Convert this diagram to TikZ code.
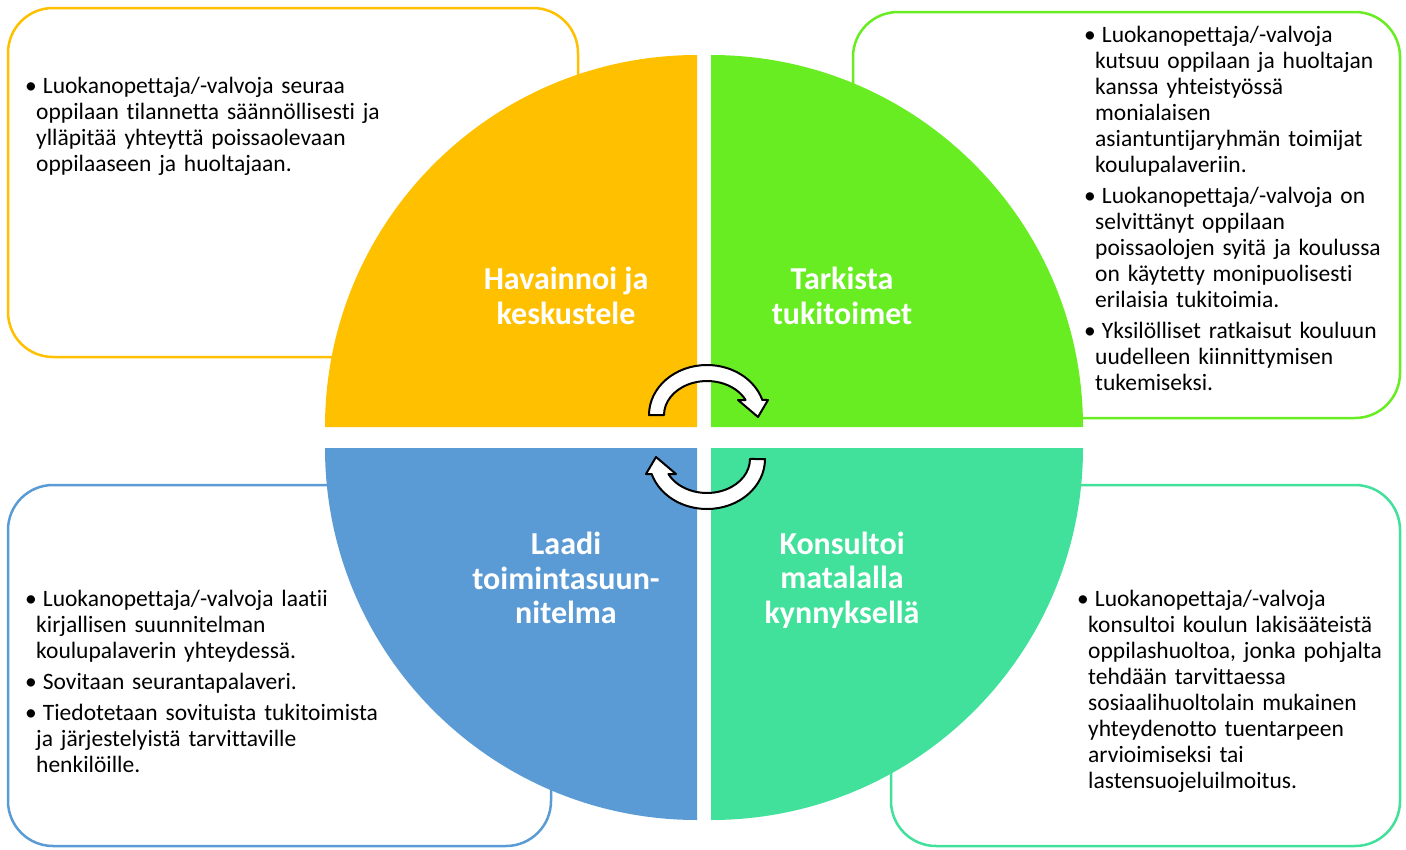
\documentclass[tikz,border=0pt]{standalone}
\usepackage{fontspec}
\setmainfont{Carlito}[Ligatures=NoCommon]
\usetikzlibrary{positioning}

\definecolor{obsyellow}{HTML}{FFC000}
\definecolor{chkgreen}{HTML}{68EC22}
\definecolor{planblue}{HTML}{5B9BD5}
\definecolor{consteal}{HTML}{41E09B}

\newcommand{\itm}{\par\hangindent=11pt\hangafter=1\noindent\textbullet\hspace{6pt}}

\tikzset{
  infobox/.style={draw=#1, line width=2.5pt, rounded corners=45pt, fill=white, inner sep=0pt},
  bodytext/.style={anchor=north west, inner sep=0pt, text width=440pt, align=left,
    font=\fontsize{23.5}{26}\selectfont\setlength{\parskip}{5pt}},
  headtext/.style={text=white, align=center, inner sep=0pt, font=\fontsize{32}{34.5}\selectfont\bfseries},
  cyclearrow/.style={fill=white, draw=black, line width=2pt, line join=round}
}

\begin{document}
\begin{tikzpicture}[x=1pt, y=-1pt]
\useasboundingbox (0,0) rectangle (1406,849);

% text boxes behind the circle
\node (obsbox) [infobox=obsyellow, minimum width=570pt, minimum height=349pt] at (293,182.5) {};
\node (chkbox) [infobox=chkgreen, minimum width=547pt, minimum height=406pt] at (1126.5,215) {};
\node (planbox) [infobox=planblue, minimum width=543pt, minimum height=361pt] at (279.5,665.5) {};
\node (consbox) [infobox=consteal, minimum width=509pt, minimum height=361pt] at (1145.5,665.5) {};

% the four quarters
\fill[obsyellow] (697,427) -- (325,427) arc[start angle=180, end angle=270, radius=372] -- cycle;
\fill[chkgreen] (711,427) -- (711,55) arc[start angle=270, end angle=360, radius=372] -- cycle;
\fill[planblue] (697,448) -- (697,820) arc[start angle=90, end angle=180, radius=372] -- cycle;
\fill[consteal] (711,448) -- (1083,448) arc[start angle=0, end angle=90, radius=372] -- cycle;

% quarter titles
\node (obstitle) [headtext] at (566,296) {Havainnoi ja\\keskustele};
\node (chktitle) [headtext] at (842,296) {Tarkista\\tukitoimet};
\node (plantitle) [headtext] at (566,578) {Laadi\\toimintasuun-\\nitelma};
\node (constitle) [headtext] at (842,580) {Konsultoi\\matalalla\\kynnyksellä};

% box texts
\node (obstext) [bodytext] at (25,62) {%
\itm Luokanopettaja/-valvoja seuraa\newline oppilaan tilannetta säännöllisesti ja\newline ylläpitää yhteyttä poissaolevaan\newline oppilaaseen ja huoltajaan.\par};
\node (chktext) [bodytext] at (1084,11) {%
\itm Luokanopettaja/-valvoja\newline kutsuu oppilaan ja huoltajan\newline kanssa yhteistyössä\newline monialaisen\newline asiantuntijaryhmän toimijat\newline koulupalaveriin.
\itm Luokanopettaja/-valvoja on\newline selvittänyt oppilaan\newline poissaolojen syitä ja koulussa\newline on käytetty monipuolisesti\newline erilaisia tukitoimia.
\itm Yksilölliset ratkaisut kouluun\newline uudelleen kiinnittymisen\newline tukemiseksi.\par};
\node (plantext) [bodytext] at (25,575) {%
\itm Luokanopettaja/-valvoja laatii\newline kirjallisen suunnitelman\newline koulupalaverin yhteydessä.
\itm Sovitaan seurantapalaveri.
\itm Tiedotetaan sovituista tukitoimista\newline ja järjestelyistä tarvittaville\newline henkilöille.\par};
\node (constext) [bodytext] at (1077,575) {%
\itm Luokanopettaja/-valvoja\newline konsultoi koulun lakisääteistä\newline oppilashuoltoa, jonka pohjalta\newline tehdään tarvittaessa\newline sosiaalihuoltolain mukainen\newline yhteydenotto tuentarpeen\newline arvioimiseksi tai\newline lastensuojeluilmoitus.\par};

% cycle arrows in the middle
\draw[cyclearrow] (649,415) arc[start angle=180, end angle=342.5, x radius=58, y radius=50]
  -- (768,400) -- (758,417) -- (738,400) -- (745.6,400)
  arc[start angle=333.8, end angle=180, x radius=43, y radius=34] -- cycle;
\begin{scope}[rotate around={180:(707,437)}]
\draw[cyclearrow] (649,415) arc[start angle=180, end angle=342.5, x radius=58, y radius=50]
  -- (768,400) -- (758,417) -- (738,400) -- (745.6,400)
  arc[start angle=333.8, end angle=180, x radius=43, y radius=34] -- cycle;
\end{scope}
\end{tikzpicture}
\end{document}
